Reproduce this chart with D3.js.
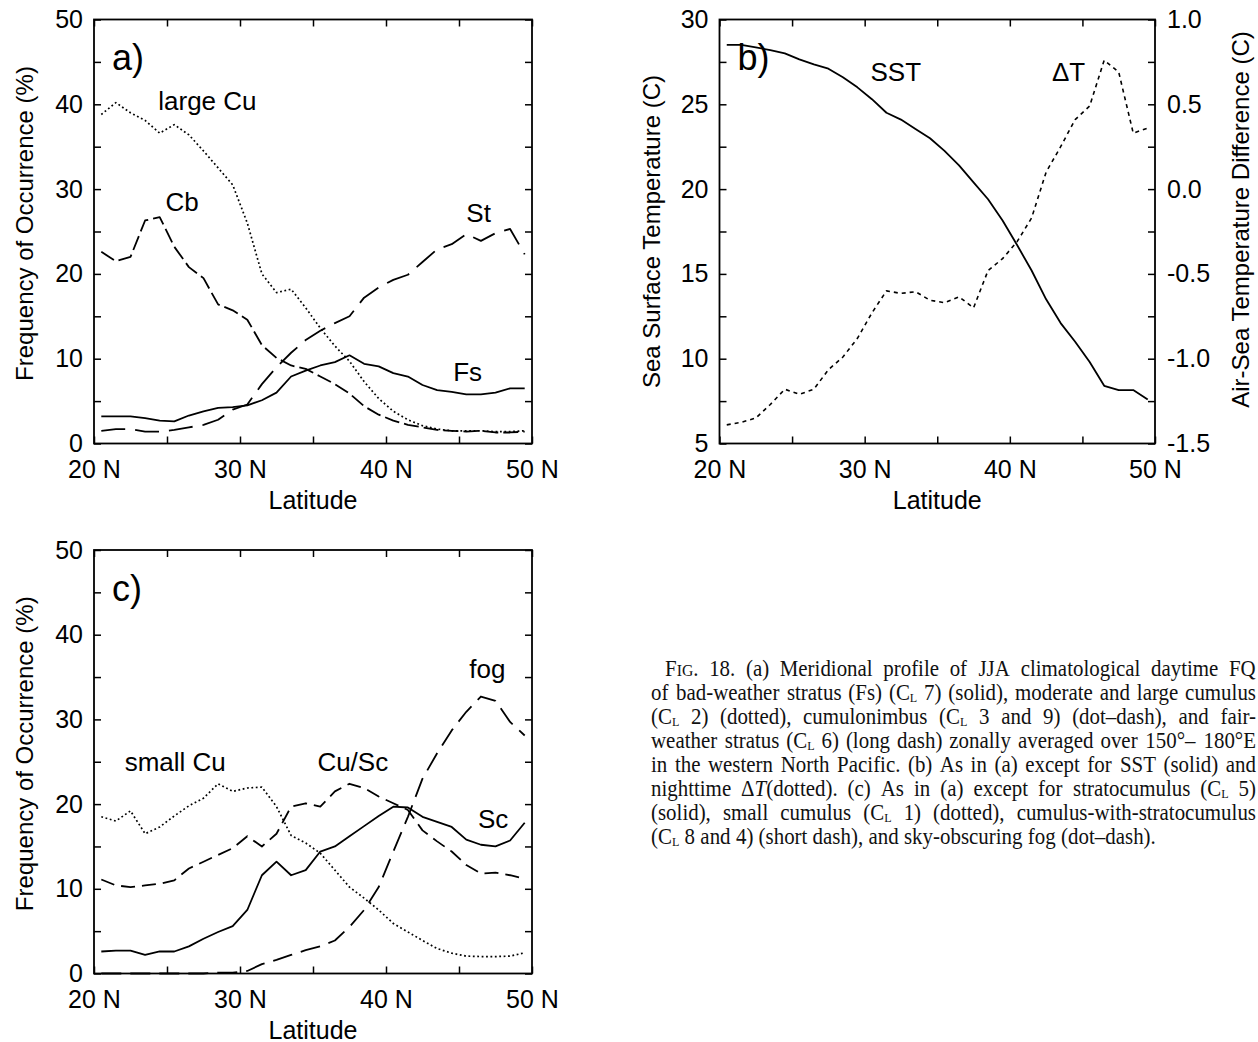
<!DOCTYPE html>
<html>
<head>
<meta charset="utf-8">
<script src="https://cdn.jsdelivr.net/npm/d3@7"></script>
<style>
  body { margin: 0; background: #fff; }
</style>
</head>
<body>
<svg id="chart" width="1258" height="1042"></svg>
<script>
const SANS = '"Liberation Sans", Arial, Helvetica, sans-serif';
const SERIF = '"Liberation Serif", "Times New Roman", serif';

// latitude of each zonal band (centre, deg N)
const LAT = [20.5, 21.5, 22.5, 23.5, 24.5, 25.5, 26.5, 27.5, 28.5, 29.5,
             30.5, 31.5, 32.5, 33.5, 34.5, 35.5, 36.5, 37.5, 38.5, 39.5,
             40.5, 41.5, 42.5, 43.5, 44.5, 45.5, 46.5, 47.5, 48.5, 49.5];

// (a) frequency of occurrence, %
const FS       = [3.2, 3.2, 3.2, 3.0, 2.7, 2.6, 3.3, 3.8, 4.2, 4.3, 4.5, 5.1, 6.0, 7.9, 8.6,
                  9.2, 9.6, 10.4, 9.4, 9.1, 8.3, 7.9, 6.9, 6.3, 6.1, 5.8, 5.8, 6.0, 6.5, 6.5];
const LARGE_CU = [38.8, 40.2, 39.0, 38.1, 36.6, 37.6, 36.4, 34.5, 32.5, 30.5, 26.0, 20.0, 17.8, 18.2, 16.0,
                  13.6, 11.5, 9.7, 7.3, 5.3, 3.8, 2.8, 2.1, 1.7, 1.5, 1.5, 1.5, 1.4, 1.4, 1.5];
const CB       = [22.6, 21.5, 22.0, 26.3, 26.7, 23.2, 20.8, 19.5, 16.4, 15.7, 14.6, 11.6, 10.1, 9.2, 8.8,
                  7.9, 7.0, 5.9, 4.4, 3.4, 2.7, 2.2, 1.9, 1.6, 1.5, 1.4, 1.5, 1.3, 1.3, 1.4];
const ST       = [1.5, 1.7, 1.7, 1.4, 1.4, 1.6, 1.9, 2.2, 2.8, 4.0, 4.6, 7.0, 9.0, 10.7, 12.2,
                  13.3, 14.2, 15.0, 17.2, 18.4, 19.3, 19.9, 21.4, 22.9, 23.5, 24.7, 23.9, 24.8, 25.3, 22.3];

// (b) SST (C) and air-sea temperature difference (C)
const SST      = [28.5, 28.5, 28.35, 28.2, 28.0, 27.65, 27.35, 27.1, 26.6, 26.0, 25.3, 24.5, 24.1, 23.55, 23.0,
                  22.25, 21.4, 20.4, 19.4, 18.15, 16.7, 15.2, 13.5, 12.1, 11.0, 9.8, 8.4, 8.15, 8.15, 7.6];
const DELTA_T  = [-1.39, -1.375, -1.35, -1.27, -1.18, -1.21, -1.18, -1.065, -0.99, -0.88, -0.73, -0.60, -0.615, -0.605, -0.655,
                  -0.67, -0.635, -0.70, -0.48, -0.41, -0.31, -0.17, 0.10, 0.25, 0.41, 0.49, 0.76, 0.69, 0.33, 0.36];

// (c) frequency of occurrence, %
const SC       = [2.6, 2.7, 2.7, 2.2, 2.6, 2.6, 3.2, 4.1, 4.9, 5.6, 7.5, 11.6, 13.2, 11.6, 12.2,
                  14.4, 15.0, 16.2, 17.4, 18.6, 19.7, 19.6, 18.5, 17.9, 17.3, 15.8, 15.2, 15.0, 15.7, 17.8];
const SMALL_CU = [18.5, 18.0, 19.2, 16.5, 17.3, 18.6, 19.8, 20.7, 22.4, 21.5, 21.9, 22.0, 19.7, 16.3, 15.4,
                  14.2, 12.2, 10.2, 8.9, 7.5, 5.9, 4.9, 3.9, 2.95, 2.4, 2.05, 2.0, 2.0, 2.05, 2.45];
const CU_SC    = [11.1, 10.4, 10.2, 10.4, 10.6, 11.0, 12.4, 13.2, 14.0, 14.8, 16.2, 15.0, 16.5, 19.7, 20.1,
                  19.7, 21.5, 22.4, 21.9, 20.9, 20.1, 19.3, 16.9, 15.6, 14.4, 12.8, 11.8, 11.9, 11.6, 11.2];
const FOG      = [0.0, 0.0, 0.0, 0.0, 0.0, 0.0, 0.0, 0.0, 0.1, 0.1, 0.3, 1.1, 1.6, 2.2, 2.75,
                  3.2, 3.9, 5.5, 7.5, 10.2, 14.4, 18.5, 23.0, 26.0, 28.7, 30.9, 32.7, 32.2, 29.7, 28.1];

// ticks
const X_TICKS  = [20, 25, 30, 35, 40, 45, 50];
const X_LABELS = ["20 N", "", "30 N", "", "40 N", "", "50 N"];
const FQ_TICKS = [0, 5, 10, 15, 20, 25, 30, 35, 40, 45, 50];
const SST_TICKS = [5, 7.5, 10, 12.5, 15, 17.5, 20, 22.5, 25, 27.5, 30];
const DT_TICKS = [-1.5, -1.25, -1.0, -0.75, -0.5, -0.25, 0.0, 0.25, 0.5, 0.75, 1.0];

const CAPTION_LINES = [
  "F[IG]. 18. (a) Meridional profile of JJA climatological daytime FQ",
  "of bad-weather stratus (Fs) (C_L 7) (solid), moderate and large cumulus",
  "(C_L 2) (dotted), cumulonimbus (C_L 3 and 9) (dot–dash), and fair-",
  "weather stratus (C_L 6) (long dash) zonally averaged over 150°– 180°E",
  "in the western North Pacific. (b) As in (a) except for SST (solid) and",
  "nighttime Δ{T}(dotted). (c) As in (a) except for stratocumulus (C_L 5)",
  "(solid), small cumulus (C_L 1) (dotted), cumulus-with-stratocumulus",
  "(C_L 8 and 4) (short dash), and sky-obscuring fog (dot–dash)."
];

const svg = d3.select("#chart");
svg.append("rect").attr("width", 1258).attr("height", 1042).attr("fill", "#fff");

function styleAxis(sel) {
  sel.select(".domain").remove();
  sel.attr("font-family", null).attr("font-size", null);
  sel.selectAll(".tick line").attr("stroke", "#000").attr("stroke-width", 1.5);
  sel.selectAll(".tick text").attr("font-family", SANS).attr("font-size", 25).attr("fill", "#000");
}

function drawPanel(p) {
  const g = svg.append("g").attr("class", "panel");
  const x = d3.scaleLinear().domain([20, 50]).range([p.left, p.right]);
  const y = d3.scaleLinear().domain(p.yDomain).range([p.bottom, p.top]);
  const y2 = p.y2Domain ? d3.scaleLinear().domain(p.y2Domain).range([p.bottom, p.top]) : null;
  const midY = (p.top + p.bottom) / 2;

  g.append("g")
    .attr("transform", `translate(0,${p.bottom})`)
    .call(d3.axisBottom(x).tickValues(X_TICKS).tickFormat((d, i) => X_LABELS[i])
      .tickSizeInner(-7).tickSizeOuter(0).tickPadding(17))
    .call(styleAxis);
  g.append("g")
    .attr("transform", `translate(0,${p.top})`)
    .call(d3.axisTop(x).tickValues(X_TICKS).tickFormat("").tickSizeInner(-7).tickSizeOuter(0))
    .call(styleAxis);
  g.append("g")
    .attr("transform", `translate(${p.left},0)`)
    .call(d3.axisLeft(y).tickValues(p.yTicks).tickFormat(p.yFormat)
      .tickSizeInner(-7).tickSizeOuter(0).tickPadding(11))
    .call(styleAxis);
  if (y2) {
    g.append("g")
      .attr("transform", `translate(${p.right},0)`)
      .call(d3.axisRight(y2).tickValues(p.y2Ticks).tickFormat(p.y2Format)
        .tickSizeInner(-7).tickSizeOuter(0).tickPadding(12))
      .call(styleAxis);
  } else {
    g.append("g")
      .attr("transform", `translate(${p.right},0)`)
      .call(d3.axisRight(y).tickValues(p.yTicks).tickFormat("").tickSizeInner(-7).tickSizeOuter(0))
      .call(styleAxis);
  }

  g.append("rect")
    .attr("x", p.left).attr("y", p.top)
    .attr("width", p.right - p.left).attr("height", p.bottom - p.top)
    .attr("fill", "none").attr("stroke", "#000").attr("stroke-width", 1.8);

  for (const s of p.series) {
    const ys = s.right ? y2 : y;
    const line = d3.line().x(d => x(d[0])).y(d => ys(d[1]));
    g.append("path")
      .datum(d3.zip(LAT, s.values))
      .attr("d", line)
      .attr("fill", "none")
      .attr("stroke", "#000")
      .attr("stroke-width", s.width || 1.8)
      .attr("stroke-dasharray", s.dash || null)
      .attr("stroke-linejoin", "round");
  }

  for (const l of p.labels) {
    g.append("text")
      .attr("x", x(l.at[0])).attr("y", y(l.at[1]))
      .attr("font-family", SANS).attr("font-size", 26)
      .text(l.text);
  }

  g.append("text")
    .attr("x", p.left + 18).attr("y", p.top + p.letterDy)
    .attr("font-family", SANS).attr("font-size", 36)
    .text(p.letter);

  g.append("text")
    .attr("x", (p.left + p.right) / 2)
    .attr("y", p.bottom + 65)
    .attr("text-anchor", "middle")
    .attr("font-family", SANS).attr("font-size", 25)
    .text("Latitude");

  g.append("text")
    .attr("transform", `translate(${p.left - p.titleOffset},${midY + p.titleShift}) rotate(-90)`)
    .attr("text-anchor", "middle")
    .attr("font-family", SANS).attr("font-size", 24)
    .text(p.yTitle);

  if (p.y2Title) {
    g.append("text")
      .attr("transform", `translate(${p.right + p.y2TitleOffset},${midY + p.y2TitleShift}) rotate(-90)`)
      .attr("text-anchor", "middle")
      .attr("font-family", SANS).attr("font-size", 24)
      .text(p.y2Title);
  }
}

const fqFormat = d => (d % 10 === 0 ? d : "");

drawPanel({
  left: 94, right: 532, top: 19.5, bottom: 443.5,
  yDomain: [0, 50], yTicks: FQ_TICKS, yFormat: fqFormat,
  yTitle: "Frequency of Occurrence (%)", titleOffset: 61, titleShift: -8,
  letter: "a)", letterDy: 50,
  series: [
    { values: FS },
    { values: LARGE_CU, dash: "1.8,2.6", width: 1.7 },
    { values: CB, dash: "15,5" },
    { values: ST, dash: "24,10" }
  ],
  labels: [
    { text: "large Cu", at: [24.4, 39.3] },
    { text: "Cb", at: [24.9, 27.4] },
    { text: "St", at: [45.5, 26.1] },
    { text: "Fs", at: [44.6, 7.4] }
  ]
});

drawPanel({
  left: 719.5, right: 1155, top: 19.5, bottom: 443.5,
  yDomain: [5, 30], yTicks: SST_TICKS, yFormat: d => (d % 5 === 0 ? d : ""),
  y2Domain: [-1.5, 1.0], y2Ticks: DT_TICKS,
  y2Format: d => (Math.abs(d * 2 - Math.round(d * 2)) < 1e-9 ? d.toFixed(1) : ""),
  yTitle: "Sea Surface Temperature (C)", titleOffset: 60, titleShift: 0,
  y2Title: "Air-Sea Temperature Difference (C)", y2TitleOffset: 94, y2TitleShift: -12,
  letter: "b)", letterDy: 50,
  series: [
    { values: SST },
    { values: DELTA_T, right: true, dash: "4,4", width: 1.6 }
  ],
  labels: [
    { text: "SST", at: [30.4, 26.35] },
    { text: "ΔT", at: [42.9, 26.35] }
  ]
});

drawPanel({
  left: 94, right: 532, top: 550, bottom: 973.5,
  yDomain: [0, 50], yTicks: FQ_TICKS, yFormat: fqFormat,
  yTitle: "Frequency of Occurrence (%)", titleOffset: 61, titleShift: -8,
  letter: "c)", letterDy: 51,
  series: [
    { values: SC },
    { values: SMALL_CU, dash: "1.8,2.6", width: 1.7 },
    { values: CU_SC, dash: "14,7" },
    { values: FOG, dash: "20,9" }
  ],
  labels: [
    { text: "small Cu", at: [22.1, 23.9] },
    { text: "Cu/Sc", at: [35.3, 23.9] },
    { text: "fog", at: [45.7, 34.9] },
    { text: "Sc", at: [46.3, 17.2] }
  ]
});

// caption, justified word by word; the group is squeezed a little sideways
// so that Times-like glyphs match the narrow typeface of the print
const CAP_LEFT = 651, CAP_RIGHT = 1256, CAP_TOP = 676, CAP_LEAD = 24, CAP_INDENT = 14;
const CAP_SIZE = 22.5, CAP_SQUEEZE = 0.93, SUB_DROP = 2;
const capWidth = (CAP_RIGHT - CAP_LEFT) / CAP_SQUEEZE;
const cap = svg.append("g")
  .attr("transform", `translate(${CAP_LEFT},0) scale(${CAP_SQUEEZE},1)`)
  .attr("font-family", SERIF).attr("font-size", CAP_SIZE).attr("fill", "#111");

function addWord(parent, word, y) {
  const t = parent.append("text").attr("y", y);
  let shift = 0;
  word.match(/_L|\[[^\]]+\]|\{[^}]+\}|[^_\[{]+/g).forEach(tok => {
    const s = t.append("tspan");
    if (tok === "_L") {
      s.text("L").attr("font-size", 13).attr("dy", SUB_DROP - shift);
      shift = SUB_DROP;
      return;
    }
    if (shift) { s.attr("dy", -shift); shift = 0; }
    if (tok[0] === "[") s.text(tok.slice(1, -1)).attr("font-size", 17);
    else if (tok[0] === "{") s.text(tok.slice(1, -1)).attr("font-style", "italic");
    else s.text(tok);
  });
  return t;
}

CAPTION_LINES.forEach((line, li) => {
  const words = line.split(" ");
  const y0 = CAP_TOP + li * CAP_LEAD;
  const nodes = words.map(w => addWord(cap, w, y0));
  const widths = nodes.map(n => n.node().getBBox().width);
  const x0 = li === 0 ? CAP_INDENT / CAP_SQUEEZE : 0;
  const last = li === CAPTION_LINES.length - 1;
  const gap = last ? CAP_SIZE * 0.25 : (capWidth - x0 - d3.sum(widths)) / (words.length - 1);
  let cx = x0;
  nodes.forEach((n, i) => {
    n.attr("x", cx);
    cx += widths[i] + gap;
  });
});
</script>
</body>
</html>
